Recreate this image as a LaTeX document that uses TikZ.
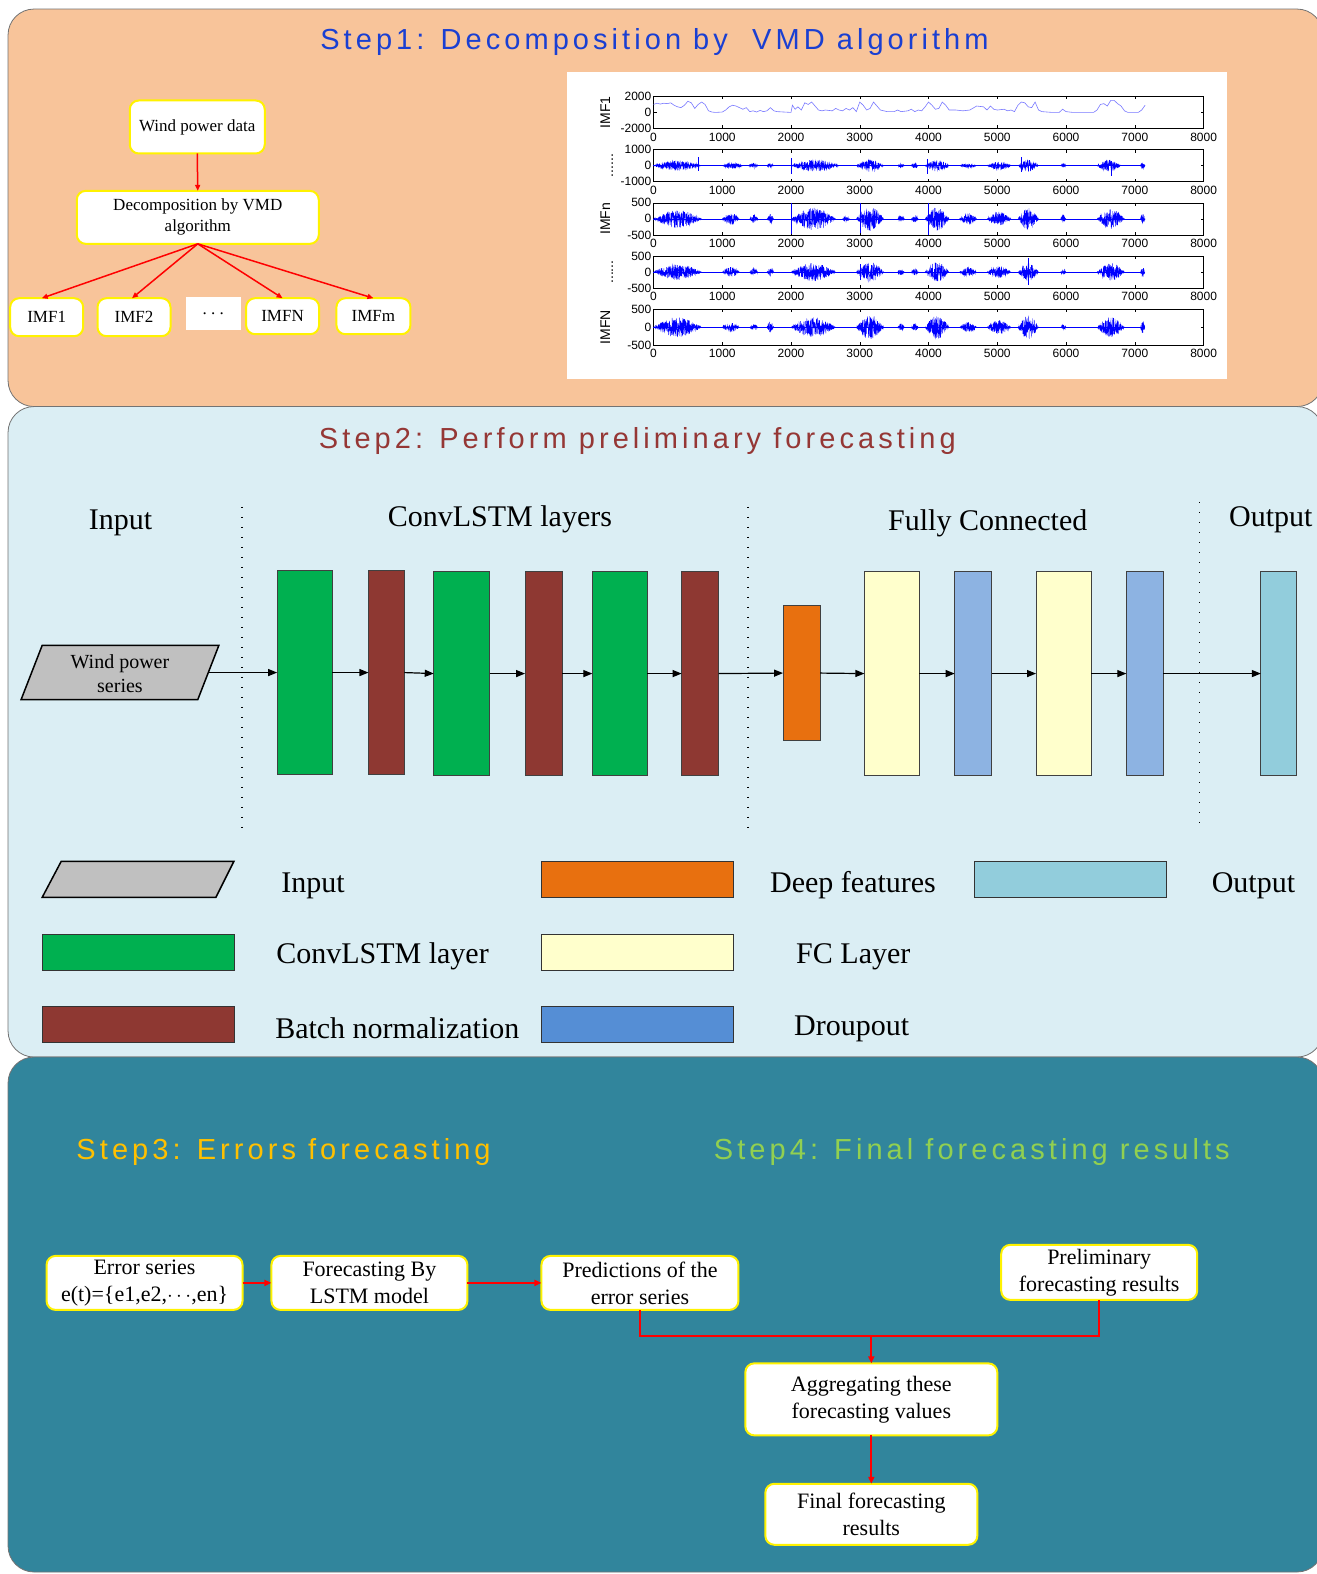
\documentclass[tikz,border=0pt]{standalone}
\usepackage{fontspec}
\setmainfont{Liberation Serif}
\newfontfamily\steptitlefont[LetterSpace=14]{Liberation Sans}
\newfontfamily\axisfont{Liberation Sans}
\usetikzlibrary{arrows.meta}
\definecolor{pOrange}{HTML}{F8C49A}
\definecolor{pBlue}{HTML}{DBEEF4}
\definecolor{pTeal}{HTML}{31859C}
\definecolor{tBlue}{HTML}{1A3FD2}
\definecolor{tRed}{HTML}{953735}
\definecolor{tGold}{HTML}{FFC000}
\definecolor{tGreen}{HTML}{92D050}
\definecolor{cGreen}{HTML}{00B050}
\definecolor{cBrown}{HTML}{8E3832}
\definecolor{cOrange}{HTML}{E8700F}
\definecolor{cYellow}{HTML}{FFFFCC}
\definecolor{cBlue}{HTML}{8DB3E2}
\definecolor{cBlueL}{HTML}{558ED5}
\definecolor{cOut}{HTML}{92CDDC}
\definecolor{cGrey}{HTML}{C0C0C0}
\definecolor{sigLight}{HTML}{7878FF}

\newcommand\myaxframe[7]{%
  \pgfmathsetmacro\mymid{(#1+#2)/2}
  \draw[axln] (651,#1) rectangle (1199,#2);
  \foreach \k in {1,...,7}{\draw[axln] ({651+68.5*\k},#1) -- ++(0,3) ({651+68.5*\k},#2) -- ++(0,-3);}
  \draw[axln] (651,\mymid) -- ++(3,0) (1199,\mymid) -- ++(-3,0)
              (651,#1) -- ++(3,0) (1199,#1) -- ++(-3,0)
              (651,#2) -- ++(3,0) (1199,#2) -- ++(-3,0);
  \foreach \k/\l in {0/0,1/1000,2/2000,3/3000,4/4000,5/5000,6/6000,7/7000,8/8000}{%
    \node[axlab,anchor=north] (ax#7x\k) at ({651+68.5*\k},#2+3) {\l};}
  \node[axlab,anchor=east] (ax#7t) at (650,#1) {#3};
  \node[axlab,anchor=east] (ax#7m) at (650,\mymid) {0};
  \node[axlab,anchor=east] (ax#7b) at (650,#2) {#4};
  \node[sidelab,rotate=90] (ax#7s) at (#6,\mymid) {#5};
}
\newcommand\mybursts[1]{%
  \foreach \a/\b/\amp in {#1}{%
    \pgfmathtruncatemacro\ns{(\b-\a)/2.2+6}%
    \draw[sig] plot[domain=\a:\b, samples=\ns] (\x,{\amp*rand*sin(180*((\x-\a)/(\b-\a)))});}
}

\begin{document}
\begin{tikzpicture}[x=1.0038pt,y=-1.0038pt,
  panel/.style={draw=black!55, line width=0.8pt, rounded corners=26pt},
  ybox/.style={draw=yellow, line width=2pt, fill=white, rounded corners=9pt, align=center, inner sep=0pt, outer sep=0pt},
  smalltxt/.style={font=\fontsize{17}{21}\selectfont},
  bigtxt/.style={font=\fontsize{22}{27}\selectfont},
  hdr/.style={font=\fontsize{30}{34}\selectfont, inner sep=0pt},
  legtxt/.style={font=\fontsize{30}{34}\selectfont, inner sep=0pt, anchor=west},
  steptitle/.style={font=\steptitlefont\fontsize{29}{33}\selectfont, inner sep=0pt},
  redarr/.style={draw=red, line width=2pt, -{Triangle[length=7pt,width=6pt]}},
  redln/.style={draw=red, line width=2pt},
  redthin/.style={draw=red, line width=1.5pt, -{Triangle[length=6pt,width=5pt]}},
  blkarr/.style={draw=black, line width=1.2pt, -{Triangle[length=9pt,width=7pt]}},
  layer/.style={draw=black!75, line width=0.8pt, inner sep=0pt, outer sep=0pt},
  legbox/.style={draw=black!80, line width=1pt, inner sep=0pt, outer sep=0pt, minimum width=192, minimum height=36},
  dotline/.style={draw=black, line width=1.4pt, dash pattern=on 1.4pt off 8.6pt},
  axln/.style={draw=black, line width=0.5pt},
  axlab/.style={font=\axisfont\fontsize{12}{12}\selectfont, inner sep=1pt},
  sidelab/.style={font=\axisfont\fontsize{14}{14}\selectfont, inner sep=0pt},
  sig/.style={draw=blue, line width=0.35pt}
]
\useasboundingbox (0,0) rectangle (1311,1568);
\fill[white] (0,0) rectangle (1311,1568);

% panels
\draw[panel, fill=pOrange] (8,9) rectangle (1318,405);
\draw[panel, fill=pBlue] (8,405) rectangle (1318,1053);
\draw[panel, fill=pTeal] (8,1053) rectangle (1318,1566);

% ---------- Step 1 ----------
\node[steptitle, text=tBlue] (t1) at (652,42) {Step1: Decomposition by\ \ VMD algorithm};

\node[ybox, smalltxt, minimum width=135, minimum height=53] (wpd) at (196.5,126.5) {Wind power data};
\node[ybox, smalltxt, minimum width=242, minimum height=53] (dec) at (197,216.5) {Decomposition by VMD\\algorithm};
\node[ybox, smalltxt, minimum width=73, minimum height=38] (imf1) at (46.5,316) {IMF1};
\node[ybox, smalltxt, minimum width=73, minimum height=38] (imf2) at (133.5,316) {IMF2};
\node[fill=white, smalltxt, minimum width=55, minimum height=33, inner sep=0pt] (dots) at (212.5,312.5) {.\ .\ .};
\node[ybox, smalltxt, minimum width=73, minimum height=36] (imfN) at (281.5,315) {IMFN};
\node[ybox, smalltxt, minimum width=74, minimum height=36] (imfm) at (372,315) {IMFm};
\draw[redthin] (wpd.south) -- (dec.north);
\draw[redthin] (dec.south) -- ([xshift=-5pt]imf1.north);
\draw[redthin] (dec.south) -- ([xshift=-2pt]imf2.north);
\draw[redthin] (dec.south) -- (imfN.north);
\draw[redthin] (dec.south) -- (imfm.north);

% plot panel
\fill[white] (565,72) rectangle (1222,378);
\myaxframe{96}{128}{2000}{-2000}{IMF1}{603}{a}
\myaxframe{149}{181}{1000}{-1000}{......}{610}{b}
\myaxframe{202}{234}{500}{-500}{IMFn}{603}{c}
\myaxframe{255}{287}{500}{-500}{......}{610}{d}
\myaxframe{308}{344}{500}{-500}{IMFN}{603}{e}

\pgfmathsetseed{7}
\begin{scope}[shift={(651,112)}, x=0.06876pt, y=0.008pt]
\draw[draw=sigLight, line width=0.6pt] plot coordinates {(0,1000) (50,1150) (100,1050) (150,1150) (200,1100) (250,1200) (300,900) (350,700) (400,600) (450,900) (500,1400) (550,1200) (600,500) (650,1000) (700,1300) (750,1000) (800,200) (850,50) (900,0) (1000,50) (1050,300) (1100,700) (1150,900) (1200,800) (1250,600) (1300,400) (1350,600) (1400,100) (1450,200) (1500,50) (1550,250) (1600,100) (1650,200) (1700,600) (1750,200) (1800,100) (1900,50) (2000,0) (2020,900) (2060,400) (2100,700) (2150,300) (2200,1200) (2250,1000) (2300,1300) (2350,800) (2400,300) (2450,200) (2500,300) (2600,200) (2650,500) (2700,300) (2750,200) (2800,500) (2850,300) (2900,600) (2950,100) (3000,1300) (3050,900) (3100,300) (3150,500) (3200,1300) (3250,800) (3300,300) (3400,100) (3500,100) (3550,300) (3600,100) (3700,200) (3750,400) (3800,100) (3850,300) (3900,200) (3950,700) (4000,1300) (4050,900) (4100,400) (4150,500) (4200,1300) (4250,900) (4300,300) (4400,300) (4500,200) (4600,300) (4700,800) (4800,700) (4850,300) (4900,800) (4950,400) (5000,300) (5100,400) (5150,200) (5200,300) (5250,100) (5300,900) (5350,1300) (5400,1200) (5450,700) (5500,600) (5550,1300) (5600,300) (5650,100) (5800,0) (5900,0) (5950,400) (6000,100) (6100,0) (6400,0) (6450,300) (6500,1000) (6550,1100) (6600,800) (6650,1500) (6700,1500) (6750,1100) (6800,800) (6850,200) (6900,0) (7050,0) (7100,300) (7150,900)};
\end{scope}
\begin{scope}[shift={(651,165)}, x=0.06876pt, y=1pt]
\draw[sig] (0,0) -- (7150,0);
\mybursts{0/700/5, 1000/1300/3, 1380/1520/2.5, 1650/1750/2.5, 2000/2700/6, 2950/3350/6, 3550/3650/2, 3750/3850/3, 3950/4300/6, 4450/4700/2, 4850/5200/4, 5300/5600/6, 5920/6000/2, 6450/6800/6, 7080/7150/3}
\draw[sig] (650,-5) -- (650,9) (2000,-8) -- (2000,8) (5350,-6) -- (5350,9) (6650,-10) -- (6650,5) (3980,-8) -- (3980,7);
\end{scope}
\begin{scope}[shift={(651,218)}, x=0.06876pt, y=1pt]
\draw[sig] (0,0) -- (7150,0);
\mybursts{0/700/9, 1000/1250/6, 1400/1520/4, 1650/1750/5, 2000/2650/11, 2750/2850/4, 2950/3350/12, 3550/3650/3, 3750/3850/4, 3950/4300/12, 4450/4700/6, 4850/5200/7, 5300/5600/11, 5920/6000/4, 6450/6850/10, 7080/7150/6}
\draw[sig] (2000,-15) -- (2000,16) (3000,-14) -- (3000,16) (4000,-16) -- (4000,16);
\end{scope}
\begin{scope}[shift={(651,271)}, x=0.06876pt, y=1pt]
\draw[sig] (0,0) -- (7150,0);
\mybursts{0/700/8, 1000/1250/5, 1400/1520/4, 1650/1750/5, 2000/2650/9, 2950/3350/10, 3550/3650/3, 3750/3850/4, 3950/4300/10, 4450/4700/5, 4850/5200/6, 5300/5600/9, 5920/6000/3, 6450/6850/9, 7080/7150/5}
\draw[sig] (5450,-13) -- (5450,14) (3000,-8) -- (3000,8);
\end{scope}
\begin{scope}[shift={(651,326)}, x=0.06876pt, y=1pt]
\draw[sig] (0,0) -- (7150,0);
\mybursts{0/700/10, 1000/1250/5, 1400/1520/3, 1650/1750/6, 2000/2650/10, 2950/3350/12, 3550/3650/4, 3750/3850/4, 3950/4300/12, 4450/4700/5, 4850/5200/7, 5300/5600/12, 5920/6000/3, 6450/6850/10, 7080/7150/6}
\end{scope}

% ---------- Step 2 ----------
\node[steptitle, text=tRed] (t2) at (635,439) {Step2: Perform preliminary forecasting};
\node[hdr] (hin) at (120,521) {Input};
\node[hdr] (hconv) at (498,517) {ConvLSTM layers};
\node[hdr] (hfc) at (984,521) {Fully Connected};
\node[hdr] (hout) at (1266,518) {Output};

\draw[dotline] (241,505) -- (241,830);
\draw[dotline] (745,505) -- (745,830);
\draw[dotline] (1195,500) -- (1195,828);

\draw[fill=cGrey, draw=black, line width=1.5pt] (42,643) -- (218,643) -- (197,697) -- (21,697) -- cycle;
\node[align=center, font=\fontsize{20}{24}\selectfont, inner sep=0pt] (para) at (119.5,671) {Wind power\\series};
\coordinate (paraout) at (208,670);

\node[layer, fill=cGreen, minimum width=55, minimum height=204] (g1) at (303.5,670) {};
\node[layer, fill=cBrown, minimum width=36, minimum height=204] (b1) at (385,670) {};
\node[layer, fill=cGreen, minimum width=56, minimum height=204] (g2) at (460,671) {};
\node[layer, fill=cBrown, minimum width=37, minimum height=204] (b2) at (541.5,671) {};
\node[layer, fill=cGreen, minimum width=55, minimum height=204] (g3) at (617.5,671) {};
\node[layer, fill=cBrown, minimum width=37, minimum height=204] (b3) at (697.5,671) {};
\node[layer, fill=cOrange, minimum width=37, minimum height=135] (df) at (798.5,670.5) {};
\node[layer, fill=cYellow, minimum width=55, minimum height=204] (y1) at (888.5,671) {};
\node[layer, fill=cBlue, minimum width=37, minimum height=204] (d1) at (969.5,671) {};
\node[layer, fill=cYellow, minimum width=55, minimum height=204] (y2) at (1059.5,671) {};
\node[layer, fill=cBlue, minimum width=37, minimum height=204] (d2) at (1140.5,671) {};
\node[layer, fill=cOut, minimum width=36, minimum height=204] (out) at (1274,671) {};

\draw[blkarr] (paraout) -- (g1.west |- paraout);
\draw[blkarr] (g1.east) -- (b1.west);
\draw[blkarr] (b1.east) -- (g2.west);
\draw[blkarr] (g2.east) -- (b2.west);
\draw[blkarr] (b2.east) -- (g3.west);
\draw[blkarr] (g3.east) -- (b3.west);
\draw[blkarr] (b3.east) -- (df.west);
\draw[blkarr] (df.east) -- (y1.west);
\draw[blkarr] (y1.east) -- (d1.west);
\draw[blkarr] (d1.east) -- (y2.west);
\draw[blkarr] (y2.east) -- (d2.west);
\draw[blkarr] (d2.east) -- (out.west);

% legend
\draw[fill=cGrey, draw=black, line width=1.5pt] (61,858) -- (233,858) -- (215,894) -- (42,894) -- cycle;
\node[legtxt] (lt1) at (280,882) {Input};
\node[legbox, fill=cOrange] (lb2) at (635,876) {};
\node[legtxt] (lt2) at (767,882) {Deep features};
\node[legbox, fill=cOut] (lb3) at (1066,876) {};
\node[legtxt] (lt3) at (1207,882) {Output};
\node[legbox, fill=cGreen] (lb4) at (138,949) {};
\node[legtxt] (lt4) at (275,953) {ConvLSTM layer};
\node[legbox, fill=cYellow] (lb5) at (635,949) {};
\node[legtxt] (lt5) at (793,953) {FC Layer};
\node[legbox, fill=cBrown] (lb6) at (138,1021) {};
\node[legtxt] (lt6) at (274,1024) {Batch normalization};
\node[legbox, fill=cBlueL] (lb7) at (635,1021) {};
\node[legtxt] (lt7) at (791,1025) {Droupout};

% ---------- Step 3 / 4 ----------
\node[steptitle, text=tGold, anchor=west] (t3) at (76,1148) {Step3: Errors forecasting};
\node[steptitle, text=tGreen, anchor=west] (t4) at (711,1148) {Step4: Final forecasting results};

\node[ybox, bigtxt, minimum width=196, minimum height=54] (err) at (144,1278) {Error series\\e(t)=\{e1,e2,$\cdots$,en\}};
\node[ybox, bigtxt, minimum width=196, minimum height=54] (lstm) at (368,1278) {Forecasting By\\LSTM model};
\node[ybox, bigtxt, minimum width=197, minimum height=54] (pred) at (637.5,1278) {Predictions of the\\error series};
\node[ybox, bigtxt, minimum width=196, minimum height=55] (prel) at (1095,1267.5) {Preliminary\\forecasting results};
\node[ybox, bigtxt, minimum width=252, minimum height=72] (agg) at (868,1394) {Aggregating these\\forecasting values};
\node[ybox, bigtxt, minimum width=212, minimum height=61] (fin) at (868,1508.5) {Final forecasting\\results};
\coordinate (join) at (868,1331);

\draw[redarr] (err.east) -- (lstm.west);
\draw[redarr] (lstm.east) -- (pred.west);
\draw[redln] (pred.south) |- (join) -| (prel.south);
\draw[redarr] (join) -- (agg.north);
\draw[redarr] (agg.south) -- (fin.north);
\end{tikzpicture}
\end{document}
